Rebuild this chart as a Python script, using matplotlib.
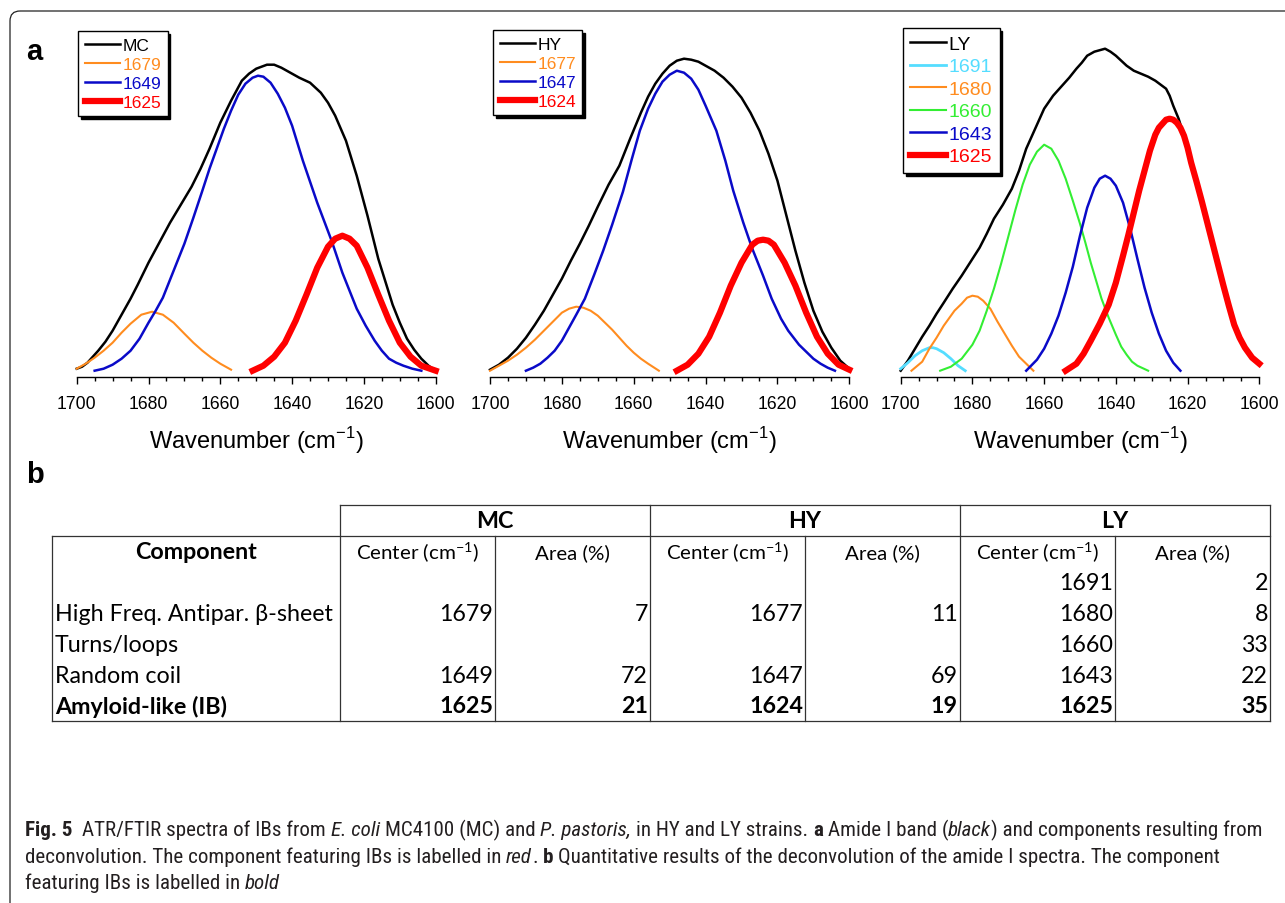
import matplotlib
matplotlib.use("Agg")
import matplotlib.pyplot as plt
from matplotlib.patches import FancyBboxPatch
from matplotlib.ticker import MultipleLocator

# ---- panel a: amide I band (black) + deconvolved components
# wavenumber (cm-1) / absorbance (a.u.)
mc_total_x = [1700, 1698.5, 1697, 1694, 1692, 1690, 1687.5, 1685, 1683, 1680, 1677, 1674, 1671,
              1668, 1665.5, 1663, 1660, 1657, 1654, 1652, 1650, 1647, 1645, 1643, 1641, 1638,
              1635, 1632, 1630, 1628, 1625, 1622, 1619, 1616, 1612, 1610, 1608, 1606, 1604,
              1602, 1600]
mc_total_y = [0.02, 0.04, 0.08, 0.20, 0.29, 0.40, 0.56, 0.72, 0.86, 1.08, 1.28, 1.48, 1.66,
              1.84, 2.02, 2.22, 2.48, 2.70, 2.90, 2.97, 3.02, 3.06, 3.06, 3.03, 2.99, 2.93,
              2.88, 2.78, 2.68, 2.55, 2.30, 1.95, 1.55, 1.12, 0.66, 0.48, 0.32, 0.21, 0.12,
              0.05, 0.00]
mc_1679_x = [1700, 1697.5, 1695, 1692.5, 1690, 1687.5, 1685, 1682, 1679, 1676, 1673, 1670,
             1667.5, 1665, 1662.5, 1660, 1657]
mc_1679_y = [0.02, 0.07, 0.13, 0.20, 0.28, 0.38, 0.47, 0.56, 0.59, 0.56, 0.48, 0.37, 0.28,
             0.20, 0.13, 0.07, 0.01]
mc_1649_x = [1695, 1692.5, 1690, 1687.5, 1685, 1682.5, 1680, 1678, 1676, 1673, 1670, 1667.5,
             1665, 1663, 1661, 1659, 1657, 1655, 1653, 1651, 1649.5, 1648, 1646, 1644, 1642,
             1640, 1637, 1635, 1633, 1631, 1629, 1626, 1624, 1622, 1619.5, 1617, 1615, 1613,
             1611, 1609, 1606.5, 1604]
mc_1649_y = [0.00, 0.02, 0.06, 0.12, 0.20, 0.32, 0.48, 0.60, 0.73, 1.00, 1.27, 1.53, 1.80,
             2.02, 2.22, 2.42, 2.60, 2.76, 2.87, 2.93, 2.95, 2.94, 2.88, 2.77, 2.63, 2.45,
             2.10, 1.89, 1.68, 1.49, 1.30, 0.98, 0.80, 0.62, 0.45, 0.30, 0.20, 0.12, 0.08,
             0.05, 0.02, 0.00]
mc_1625_x = [1651, 1648, 1645, 1642, 1639, 1636, 1633, 1630, 1628, 1626, 1624, 1622, 1619, 1616,
             1613, 1610, 1607, 1604, 1600]
mc_1625_y = [0.00, 0.05, 0.14, 0.28, 0.50, 0.76, 1.03, 1.24, 1.32, 1.35, 1.32, 1.25, 1.03, 0.76,
             0.50, 0.28, 0.14, 0.05, 0.00]

hy_total_x = [1700, 1697.5, 1695, 1692.5, 1690, 1687.5, 1685, 1682.5, 1680, 1677.5, 1675,
              1672.5, 1670, 1667, 1664, 1661, 1658, 1656, 1654, 1652, 1650, 1648, 1646, 1644,
              1642, 1640, 1637.5, 1635, 1632.5, 1630, 1627.5, 1625, 1622.5, 1620, 1617.5,
              1615, 1612.5, 1610, 1607.5, 1605, 1602.5, 1600]
hy_total_y = [0.01, 0.06, 0.13, 0.22, 0.33, 0.46, 0.60, 0.76, 0.92, 1.10, 1.27, 1.45, 1.64,
              1.86, 2.05, 2.32, 2.58, 2.74, 2.87, 2.97, 3.05, 3.10, 3.12, 3.11, 3.09, 3.05,
              3.00, 2.93, 2.84, 2.73, 2.58, 2.40, 2.17, 1.90, 1.55, 1.20, 0.88, 0.60, 0.39,
              0.23, 0.10, 0.02]
hy_1677_x = [1700, 1697.5, 1695, 1692.5, 1690, 1687.5, 1685, 1682.5, 1680, 1678, 1676, 1674,
             1672, 1670, 1668, 1666, 1664, 1662, 1660, 1658, 1656, 1653]
hy_1677_y = [0.00, 0.05, 0.10, 0.16, 0.23, 0.31, 0.40, 0.49, 0.58, 0.62, 0.64, 0.63, 0.60,
             0.55, 0.48, 0.41, 0.33, 0.25, 0.18, 0.12, 0.07, 0.00]
hy_1647_x = [1690, 1688, 1686, 1684, 1682, 1680, 1678, 1676, 1673.6, 1671, 1668.5, 1666, 1663,
             1660.5, 1658.3, 1656, 1654, 1652, 1650, 1648, 1646, 1644, 1642, 1640, 1637, 1634.5,
             1632.3, 1629.5, 1627, 1624, 1621.6, 1619, 1617, 1614, 1612, 1610, 1608, 1606, 1604]
hy_1647_y = [0.00, 0.03, 0.07, 0.13, 0.20, 0.30, 0.43, 0.56, 0.72, 0.96, 1.20, 1.46, 1.79,
             2.12, 2.40, 2.62, 2.77, 2.89, 2.96, 3.00, 2.98, 2.92, 2.81, 2.65, 2.40, 2.10,
             1.80, 1.48, 1.22, 0.95, 0.72, 0.52, 0.40, 0.26, 0.19, 0.12, 0.07, 0.03, 0.00]
hy_1624_x = [1648, 1645, 1642, 1639, 1636, 1633, 1630, 1627, 1625.5, 1624, 1622.5, 1621, 1618,
             1615, 1612, 1609, 1606, 1603, 1600]
hy_1624_y = [0.00, 0.06, 0.17, 0.34, 0.58, 0.85, 1.08, 1.26, 1.30, 1.31, 1.30, 1.26, 1.08,
             0.85, 0.58, 0.34, 0.17, 0.06, 0.01]

ly_total_x = [1700, 1698, 1696, 1694, 1692, 1690, 1688, 1685.5, 1683, 1680.5, 1678, 1676, 1674,
              1671.5, 1669, 1667, 1665, 1662.5, 1660, 1657.5, 1655, 1653, 1651, 1649.5, 1648,
              1646, 1643, 1641.5, 1640, 1638.5, 1637, 1635, 1633, 1631, 1629, 1627.5, 1626,
              1625, 1624, 1622.5, 1621, 1619, 1616, 1613, 1610, 1607, 1603.5, 1600]
ly_total_y = [0.00, 0.10, 0.22, 0.34, 0.45, 0.57, 0.68, 0.82, 0.95, 1.09, 1.23, 1.37, 1.52,
              1.66, 1.82, 2.00, 2.22, 2.42, 2.62, 2.75, 2.85, 2.93, 3.02, 3.08, 3.15, 3.19,
              3.22, 3.19, 3.15, 3.10, 3.05, 3.00, 2.97, 2.94, 2.90, 2.86, 2.82, 2.75, 2.65,
              2.52, 2.35, 2.10, 1.72, 1.29, 0.87, 0.47, 0.20, 0.07]
ly_1691_x = [1700, 1698, 1696, 1694, 1692, 1691, 1690, 1688, 1686, 1684, 1682]
ly_1691_y = [0.02, 0.08, 0.15, 0.20, 0.23, 0.23, 0.22, 0.18, 0.12, 0.05, 0.00]
ly_1680_x = [1697, 1694, 1692, 1690, 1688, 1685, 1683, 1681.5, 1680, 1678.5, 1677, 1675, 1673,
             1671, 1669, 1667, 1665, 1663]
ly_1680_y = [0.00, 0.09, 0.22, 0.33, 0.45, 0.60, 0.67, 0.73, 0.75, 0.74, 0.70, 0.62, 0.49,
             0.37, 0.25, 0.14, 0.07, 0.00]
ly_1660_x = [1689, 1686, 1683, 1680, 1678, 1676, 1674, 1672, 1670, 1668, 1666, 1664, 1662, 1660,
             1658, 1656, 1654, 1652, 1650, 1648.5, 1647, 1645.5, 1644, 1642, 1640, 1638.5,
             1637, 1635.5, 1634, 1631]
ly_1660_y = [0.00, 0.04, 0.12, 0.26, 0.40, 0.60, 0.82, 1.07, 1.34, 1.61, 1.86, 2.06, 2.19,
             2.26, 2.22, 2.10, 1.92, 1.70, 1.47, 1.28, 1.08, 0.90, 0.72, 0.53, 0.36, 0.24,
             0.16, 0.09, 0.05, 0.00]
ly_1643_x = [1665, 1662, 1660, 1658, 1656, 1654, 1652, 1650, 1648, 1646, 1644.5, 1643, 1641.5,
             1640, 1638, 1636, 1634, 1632, 1630, 1628, 1626, 1624, 1622]
ly_1643_y = [0.00, 0.11, 0.22, 0.37, 0.55, 0.78, 1.04, 1.35, 1.63, 1.83, 1.92, 1.95, 1.92,
             1.85, 1.68, 1.42, 1.12, 0.83, 0.58, 0.37, 0.20, 0.08, 0.00]
ly_1625_x = [1654, 1651, 1649, 1647, 1644.5, 1642, 1640, 1638, 1636.5, 1635, 1633.5, 1632,
             1630.5, 1629, 1628, 1627, 1626, 1625, 1624, 1623, 1622, 1621, 1620, 1619, 1617.5,
             1616, 1614.5, 1613, 1611.5, 1610, 1608.5, 1607, 1605.5, 1604, 1602, 1600]
ly_1625_y = [0.00, 0.07, 0.17, 0.30, 0.47, 0.66, 0.88, 1.15, 1.36, 1.58, 1.80, 2.00, 2.20,
             2.36, 2.43, 2.47, 2.51, 2.52, 2.51, 2.48, 2.43, 2.35, 2.23, 2.08, 1.89, 1.69,
             1.48, 1.27, 1.06, 0.85, 0.65, 0.46, 0.33, 0.23, 0.13, 0.07]

strains = ["MC", "HY", "LY"]
mc_labels = ["1679", "1649", "1625"]
hy_labels = ["1677", "1647", "1624"]
ly_labels = ["1691", "1680", "1660", "1643", "1625"]

# ---- panel b: table
components = ["", "High Freq. Antipar. \u03b2-sheet", "Turns/loops", "Random coil", "Amyloid-like (IB)"]
mc_center = ["", "1679", "", "1649", "1625"]
mc_area = ["", "7", "", "72", "21"]
hy_center = ["", "1677", "", "1647", "1624"]
hy_area = ["", "11", "", "69", "19"]
ly_center = ["1691", "1680", "1660", "1643", "1625"]
ly_area = ["2", "8", "33", "22", "35"]

ORANGE, BLUE, RED = "#ff8c1f", "#0a0ac8", "#ff0000"
GREEN, CYAN = "#33ee33", "#55ddff"

W, H = 1285, 904
plt.rcParams["font.family"] = ["Liberation Sans", "DejaVu Sans"]
fig = plt.figure(figsize=(W / 100, H / 100), dpi=100)

# full-figure overlay in pixel coordinates (border, letters, table, caption)
ov = fig.add_axes([0, 0, 1, 1])
ov.set_xlim(0, W)
ov.set_ylim(H, 0)
ov.axis("off")
ov.add_patch(FancyBboxPatch((10, 12), W + 60, H + 60, boxstyle="round,pad=0,rounding_size=10",
                            fill=False, ec="#222222", lw=0.9))
ov.text(34, 52, "a", fontsize=21, fontweight="bold", ha="center", va="center")
ov.text(34.5, 475, "b", fontsize=21, fontweight="bold", ha="center", va="center")

panels = [
    ("MC", 76.7, 435.7, (78, 32), 12.5, 0.22, 2.05,
     (mc_total_x, mc_total_y),
     [(mc_1679_x, mc_1679_y, ORANGE, 1.5), (mc_1649_x, mc_1649_y, BLUE, 1.8),
      (mc_1625_x, mc_1625_y, RED, 4.5)], mc_labels),
    ("HY", 490.0, 849.3, (493, 31), 12.5, 0.22, 2.05,
     (hy_total_x, hy_total_y),
     [(hy_1677_x, hy_1677_y, ORANGE, 1.5), (hy_1647_x, hy_1647_y, BLUE, 1.8),
      (hy_1624_x, hy_1624_y, RED, 4.5)], hy_labels),
    ("LY", 900.7, 1259.3, (903, 29), 14, 0.25, 1.85,
     (ly_total_x, ly_total_y),
     [(ly_1691_x, ly_1691_y, CYAN, 2.0), (ly_1680_x, ly_1680_y, ORANGE, 1.5),
      (ly_1660_x, ly_1660_y, GREEN, 1.5), (ly_1643_x, ly_1643_y, BLUE, 1.8),
      (ly_1625_x, ly_1625_y, RED, 4.5)], ly_labels),
]

AX_TOP, AX_BOT, BASE = 40, 378, 371.7
for name, left, right, legpos, legfs, legsp, hlen, total, comps, labels in panels:
    ax = fig.add_axes([left / W, 1 - AX_BOT / H, (right - left) / W, (AX_BOT - AX_TOP) / H])
    ax.patch.set_visible(False)
    handles = ax.plot(total[0], total[1], color="black", lw=1.8, clip_on=False,
                      solid_joinstyle="round")
    for cx, cy, col, lw in comps:
        handles += ax.plot(cx, cy, color=col, lw=lw, clip_on=False, solid_joinstyle="round")
    ax.set_xlim(1700, 1600)
    ax.set_ylim(-(AX_BOT - BASE) / 100, (BASE - AX_TOP) / 100)
    for s in ("left", "right", "top"):
        ax.spines[s].set_visible(False)
    ax.spines["bottom"].set_linewidth(1.0)
    ax.set_yticks([])
    ax.xaxis.set_major_locator(MultipleLocator(20))
    ax.xaxis.set_minor_locator(MultipleLocator(5))
    ax.tick_params(axis="x", which="major", direction="out", length=5, width=1,
                   labelsize=12.7, pad=8)
    ax.tick_params(axis="x", which="minor", direction="out", length=3, width=1)
    ax.set_xlabel(r"Wavenumber (cm$^{\mathregular{-1}}$)", fontsize=17, labelpad=9)
    leg = ax.legend(handles, [name] + labels, loc="upper left",
                    bbox_to_anchor=(legpos[0] / W, 1 - legpos[1] / H),
                    bbox_transform=fig.transFigure, borderaxespad=0, fancybox=False,
                    edgecolor="black", framealpha=1, shadow={"color": "black", "alpha": 1},
                    fontsize=legfs, handlelength=hlen, handletextpad=0.12,
                    labelspacing=legsp, borderpad=0.38, labelcolor="linecolor")
    leg.get_frame().set_linewidth(1.0)

# ---- table
rend = fig.canvas.get_renderer()


def text_width(s, **kw):
    t = ov.text(0, 0, s, **kw)
    w = t.get_window_extent(renderer=rend).width
    t.remove()
    return w


TFONT = ["Lato", "DejaVu Sans"]
tfs = 14 * 278 / text_width(components[1], fontsize=14, family=TFONT)
LC = "#333333"
row_lines = [537, 568, 599, 630, 661, 692, 722]
col_x = [52, 340, 495, 650, 805, 960, 1115, 1270]

ov.plot([340, 1270], [506, 506], color=LC, lw=0.9)
ov.plot([52, 1270], [537, 537], color=LC, lw=0.9)
ov.plot([52, 1270], [722, 722], color=LC, lw=0.9)
for i, x in enumerate(col_x):
    top = 506 if i in (1, 3, 5, 7) else 537
    ov.plot([x, x], [top, 722], color=LC, lw=0.9)

for k, s in enumerate(strains):
    ov.text((col_x[1 + 2 * k] + col_x[3 + 2 * k]) / 2, 522, s, family=TFONT, fontsize=tfs,
            fontweight="bold", ha="center", va="center")
    ov.text((col_x[1 + 2 * k] + col_x[2 + 2 * k]) / 2, 553, r"Center (cm$^{\mathregular{-1}}$)",
            family=TFONT, fontsize=tfs * 0.88, ha="center", va="center")
    ov.text((col_x[2 + 2 * k] + col_x[3 + 2 * k]) / 2, 553, "Area (%)",
            family=TFONT, fontsize=tfs * 0.88, ha="center", va="center")
ov.text(196, 553, "Component", family=TFONT, fontsize=tfs, fontweight="bold",
        ha="center", va="center")

for r in range(len(components)):
    y = (row_lines[r + 1] + row_lines[r + 2]) / 2
    fw = "bold" if r == len(components) - 1 else "normal"
    ov.text(55, y, components[r], family=TFONT, fontsize=tfs, fontweight=fw, va="center")
    for j, col in enumerate([mc_center, mc_area, hy_center, hy_area, ly_center, ly_area]):
        ov.text(col_x[j + 2] - 2, y, col[r], family=TFONT, fontsize=tfs, fontweight=fw,
                ha="right", va="center")

# ---- caption
CFONT = ["Roboto Condensed", "Liberation Sans Narrow", "Roboto", "DejaVu Sans"]
N, B, I = ("normal", "normal"), ("bold", "normal"), ("normal", "italic")
cap_lines = [
    [("Fig. 5", B), ("  ATR/FTIR spectra of IBs from ", N), ("E. coli", I), (" MC4100 (MC) and ", N),
     ("P. pastoris,", I), (" in HY and LY strains. ", N), ("a", B), (" Amide I band (", N),
     ("black", I), (") and components resulting from", N)],
    [("deconvolution. The component featuring IBs is labelled in ", N), ("red", I), (". ", N),
     ("b", B), (" Quantitative results of the deconvolution of the amide I spectra. The component", N)],
    [("featuring IBs is labelled in ", N), ("bold", I)],
]


def put_runs(x, y, runs, size, draw=True):
    sp = text_width("x x", fontsize=size, family=CFONT) - text_width("xx", fontsize=size, family=CFONT)
    for txt, (fw, st) in runs:
        core = txt.strip(" ")
        x += (len(txt) - len(txt.lstrip(" "))) * sp
        kw = dict(fontsize=size, family=CFONT, fontweight=fw, fontstyle=st)
        if draw:
            ov.text(x, y, core, va="baseline", ha="left", color="#231f20", **kw)
        x += text_width(core, **kw) + (len(txt) - len(txt.rstrip(" "))) * sp
    return x


cfs = 12 * (1262 - 25) / (put_runs(25, 0, cap_lines[0], 12, draw=False) - 25)
for line, yb in zip(cap_lines, [836, 863, 889]):
    put_runs(25, yb, line, cfs)

fig.savefig("out.png", dpi=100)
